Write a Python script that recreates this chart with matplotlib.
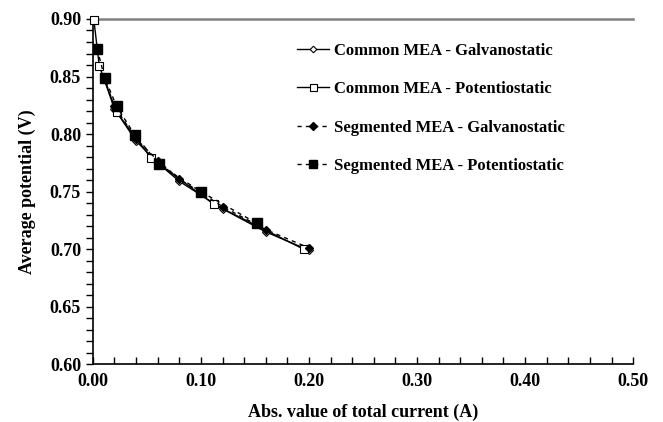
import matplotlib.pyplot as plt
from matplotlib.ticker import MultipleLocator, FormatStrFormatter

plt.rcParams['font.family'] = ['Liberation Serif', 'DejaVu Serif']
plt.rcParams['font.weight'] = 'bold'

# galvanostatic runs (imposed current)
galv_i = [0.01, 0.02, 0.04, 0.06, 0.08, 0.12, 0.16, 0.20]
common_galv_v = [0.849, 0.822, 0.794, 0.775, 0.759, 0.735, 0.715, 0.699]
seg_galv_v = [0.850, 0.824, 0.796, 0.777, 0.761, 0.737, 0.717, 0.701]

# potentiostatic runs (imposed potential)
common_pot_i = [0.001, 0.006, 0.022, 0.054, 0.112, 0.195]
common_pot_v = [0.899, 0.859, 0.819, 0.779, 0.739, 0.700]
seg_pot_i = [0.004, 0.011, 0.022, 0.039, 0.061, 0.0997, 0.1515]
seg_pot_v = [0.874, 0.849, 0.824, 0.799, 0.774, 0.750, 0.7226]

fig = plt.figure(figsize=(6.63, 4.22), dpi=100)
ax = fig.add_axes([0.140, 0.137, 0.815, 0.818])

ax.plot(galv_i, common_galv_v, color='black', lw=1.0, marker='D', ms=4.2,
        mfc='white', mec='black', mew=0.8, label='Common MEA - Galvanostatic')
ax.plot(common_pot_i, common_pot_v, color='black', lw=1.0, marker='s', ms=6.3,
        mfc='white', mec='black', mew=0.8, label='Common MEA - Potentiostatic')
ax.plot(galv_i, seg_galv_v, color='black', lw=1.0, ls=(0, (3, 3)), marker='D', ms=4.5,
        mfc='black', mec='black', label='Segmented MEA - Galvanostatic')
ax.plot(seg_pot_i, seg_pot_v, color='black', lw=1.0, ls=(0, (3, 3)), marker='s', ms=6.8,
        mfc='black', mec='black', label='Segmented MEA - Potentiostatic')
# keep the open square at 0.90 V on top, unclipped
ax.plot(common_pot_i[:1], common_pot_v[:1], ls='none', marker='s', ms=6.3,
        mfc='white', mec='black', mew=0.8, clip_on=False, zorder=5)

ax.set_xlim(0, 0.5)
ax.set_ylim(0.6, 0.9)
ax.xaxis.set_major_locator(MultipleLocator(0.1))
ax.xaxis.set_minor_locator(MultipleLocator(0.02))
ax.yaxis.set_major_locator(MultipleLocator(0.05))
ax.yaxis.set_minor_locator(MultipleLocator(0.01))
ax.xaxis.set_major_formatter(FormatStrFormatter('%.2f'))
ax.yaxis.set_major_formatter(FormatStrFormatter('%.2f'))

ax.tick_params(axis='x', which='both', direction='in', length=5, width=1, labelsize=13, pad=6)
ax.tick_params(axis='y', which='both', direction='out', length=5, width=1, labelsize=13)

ax.spines['right'].set_visible(False)
ax.spines['top'].set_color('#808080')
ax.spines['top'].set_linewidth(1.8)
ax.spines['left'].set_linewidth(1.2)
ax.spines['bottom'].set_linewidth(1.2)

ax.set_xlabel('Abs. value of total current (A)', fontsize=13, fontweight='bold', labelpad=10)
ax.set_ylabel('Average potential (V)', fontsize=13, fontweight='bold', labelpad=10)

leg = ax.legend(loc='upper left', bbox_to_anchor=(0.35, 0.975), frameon=False,
                labelspacing=1.35, handlelength=1.9, handletextpad=0.3, markerscale=0.8,
                prop={'weight': 'bold', 'size': 12})

fig.savefig('out.png', dpi=100)
